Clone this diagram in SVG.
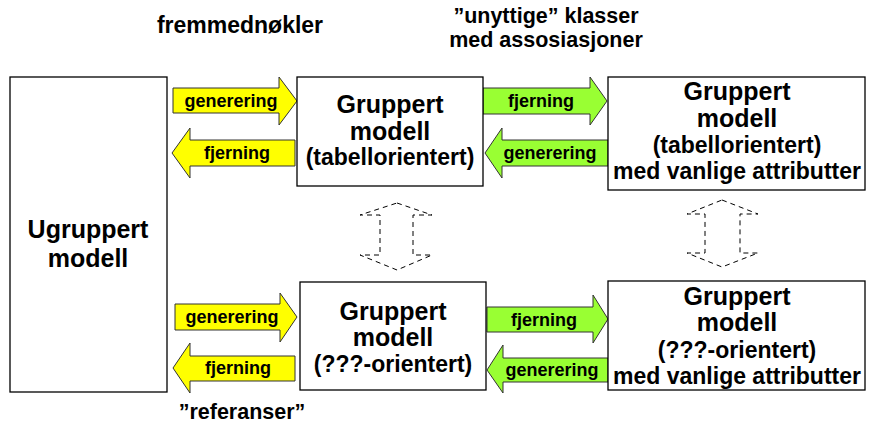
<svg xmlns="http://www.w3.org/2000/svg" width="870" height="430" viewBox="0 0 870 430">
<style>
text{font-family:"Liberation Sans",Arial,sans-serif;font-weight:bold;fill:#000;text-anchor:middle}
.big{font-size:23px}
.hd{font-size:25px}
.top{font-size:21.5px}
.lab{font-size:18px}
.box{fill:#fff;stroke:#000;stroke-width:1.3}
.ya{fill:#ffff00;stroke:#333;stroke-width:1}
.ga{fill:#99ff33;stroke:#333;stroke-width:1}
.da{fill:none;stroke:#000;stroke-width:1;stroke-dasharray:5,4}
</style>
<rect width="870" height="430" fill="#fff"/>
<g id="connectors">
<polygon class="ya" points="173,88 279,88 279,77 297,101 279,125 279,113 173,113"/>
<text class="lab" x="231" y="107">generering</text>
<polygon class="ya" points="295,140 190,140 190,128 172,153 190,178 190,166 295,166"/>
<text class="lab" x="237" y="159">fjerning</text>
<polygon class="ga" points="483,88 590,88 590,77 607,101 590,125 590,114 483,114"/>
<text class="lab" x="541" y="107">fjerning</text>
<polygon class="ga" points="608,140 502,140 502,128 485,153 502,178 502,166 608,166"/>
<text class="lab" x="550" y="159">generering</text>
<polygon class="ya" points="175,304 280,304 280,293 297,317 280,342 280,330 175,330"/>
<text class="lab" x="232" y="323">generering</text>
<polygon class="ya" points="295,356 190,356 190,343 173,368 190,393 190,381 295,381"/>
<text class="lab" x="238" y="374">fjerning</text>
<polygon class="ga" points="487,307 593,307 593,295 608,319 593,343 593,332 487,332"/>
<text class="lab" x="544" y="326">fjerning</text>
<polygon class="ga" points="608,358 503,358 503,345 487,370 503,393 503,382 608,382"/>
<text class="lab" x="552" y="376">generering</text>
<polygon class="da" points="397,203 432,215 413,215 413,255 432,255 397,270 360,255 380,255 380,215 360,215"/>
<polygon class="da" points="722,200 758,214 740,214 740,253 758,253 722,267 687,253 705,253 705,214 687,214"/>
</g>
<g id="ugruppert">
<rect class="box" x="10" y="77" width="157" height="315"/>
<text class="hd" x="88" y="238">Ugruppert</text>
<text class="hd" x="88" y="267">modell</text>
</g>
<g id="gruppert-tabell">
<rect class="box" x="297" y="77" width="186" height="109"/>
<text class="hd" x="390" y="113">Gruppert</text>
<text class="hd" x="390" y="140">modell</text>
<text class="big" x="390" y="165">(tabellorientert)</text>
</g>
<g id="gruppert-tabell-attr">
<rect class="box" x="608" y="77" width="257" height="113"/>
<text class="hd" x="737" y="100">Gruppert</text>
<text class="hd" x="737" y="127">modell</text>
<text class="big" x="737" y="153">(tabellorientert)</text>
<text class="big" x="737" y="179">med vanlige attributter</text>
</g>
<g id="gruppert-q">
<rect class="box" x="300" y="282" width="186" height="108"/>
<text class="hd" x="393" y="320">Gruppert</text>
<text class="hd" x="393" y="346">modell</text>
<text class="big" x="393" y="372">(???-orientert)</text>
</g>
<g id="gruppert-q-attr">
<rect class="box" x="608" y="281" width="257" height="109"/>
<text class="hd" x="737" y="305">Gruppert</text>
<text class="hd" x="737" y="331">modell</text>
<text class="big" x="737" y="358">(???-orientert)</text>
<text class="big" x="737" y="384">med vanlige attributter</text>
</g>
<g id="labels">
<text class="big" x="240" y="33">fremmednøkler</text>
<text class="top" x="546" y="23">”unyttige” klasser</text>
<text class="top" x="546" y="47">med assosiasjoner</text>
<text class="top" x="242" y="419">”referanser”</text>
</g>
</svg>
